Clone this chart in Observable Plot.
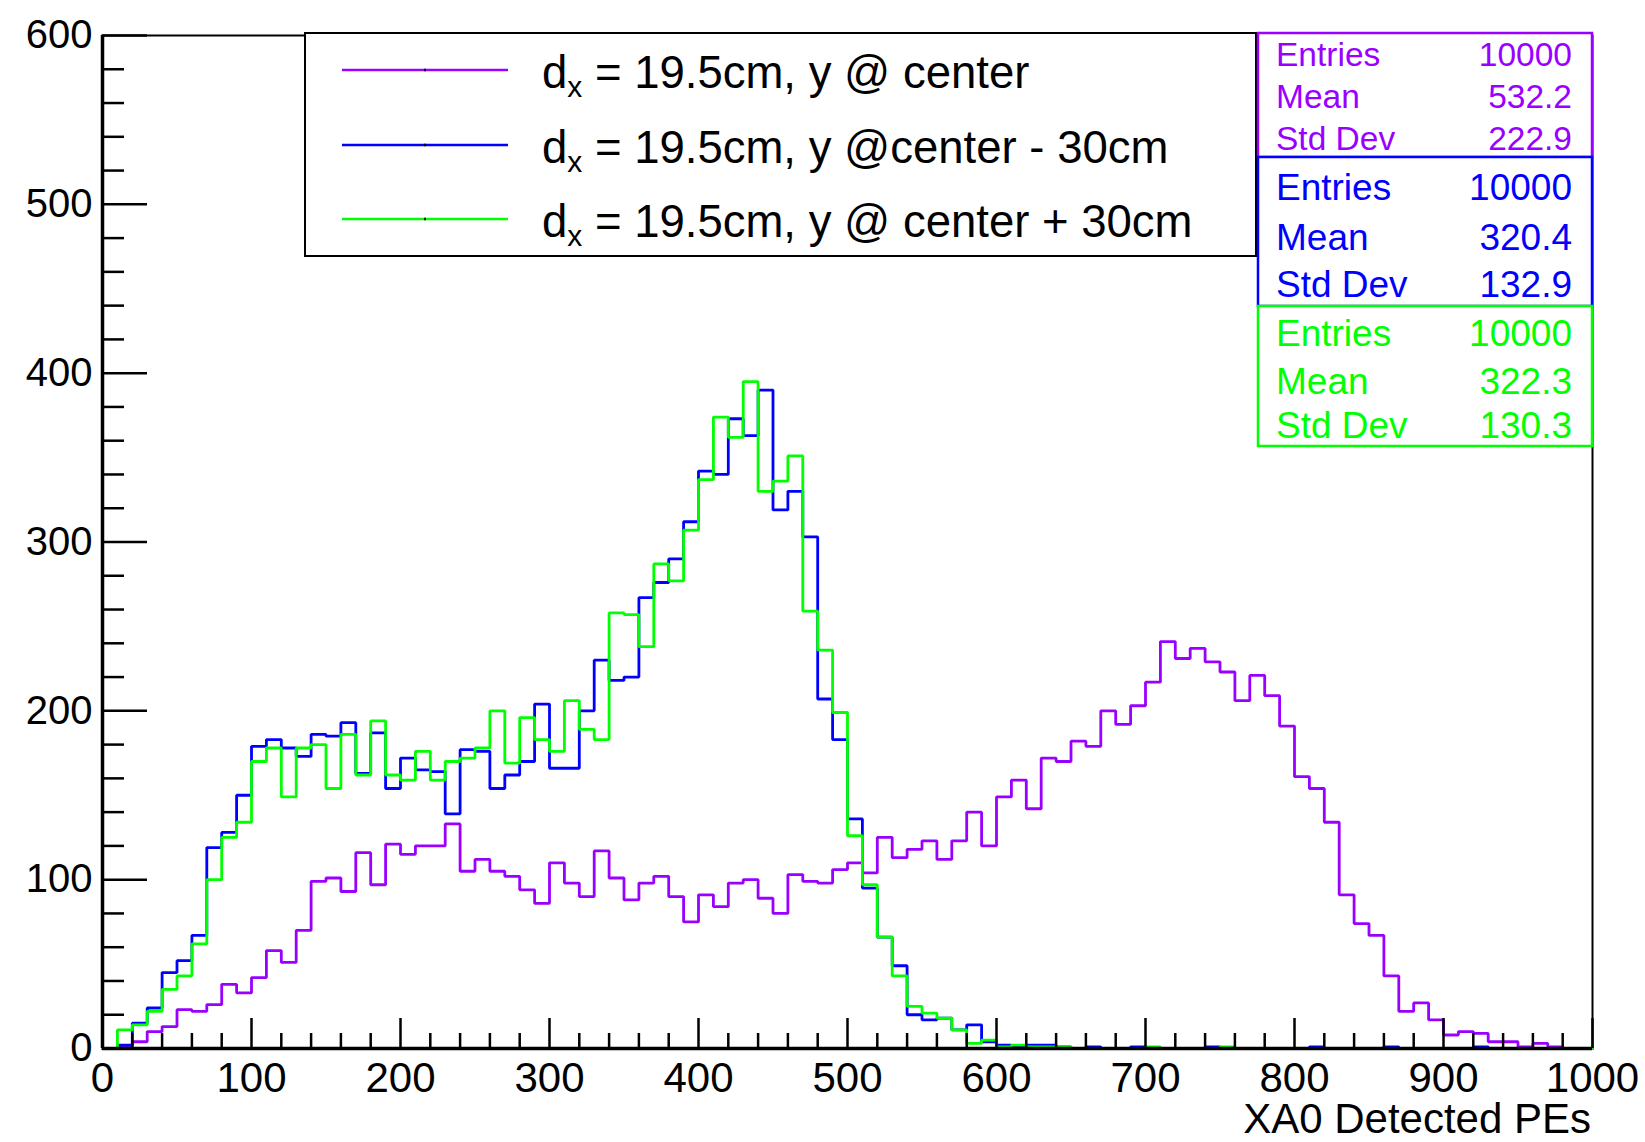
<!DOCTYPE html>
<html><head><meta charset="utf-8">
<script src="https://cdn.jsdelivr.net/npm/d3@7"></script>
<script src="https://cdn.jsdelivr.net/npm/@observablehq/plot@0.6"></script>
<style>
html,body{margin:0;padding:0;background:#fff;}
#chart{width:1645px;height:1142px;overflow:hidden;}
</style>
</head><body><div id="chart"></div>
<script>
// ---------- data ----------
const binStart = 0, binWidth = 10;
const centerCounts = [0,1,4,10,13,23,22,26,38,33, 42,58,51,70,99,101,93,116,97,121,
  115,120,120,133,105,112,105,102,94,86, 110,98,90,117,101,88,98,102,90,75,
  91,84,98,100,89,80,103,99,98,106, 110,104,125,113,118,123,112,123,140,120,
  149,159,142,172,170,182,179,200,192,203, 217,241,231,237,229,223,206,221,209,191,
  161,154,134,91,74,67,43,22,27,17, 8,10,9,4,4,1,3,1,0,0];
const minus30Counts = [0,2,15,24,45,52,67,119,128,150, 179,183,178,173,186,185,193,163,187,154,
  172,165,164,139,177,176,154,162,170,204, 166,166,200,230,218,220,267,276,290,312,
  342,340,373,363,390,319,330,303,207,183, 136,95,66,49,20,17,18,11,14,4,
  2,1,2,2,1,0,1,0,0,1, 0,0,0,0,1,0,0,0,0,0, 0,1,0,0,0,0,1,0,0,0, 0,0,1,0,0,0,0,0,0,0];
const plus30Counts = [0,11,14,22,35,43,62,100,125,134, 170,178,149,178,180,154,186,162,194,162,
  159,176,159,170,172,178,200,169,196,183, 176,206,189,183,258,257,238,287,277,307,
  337,374,362,395,330,336,351,259,236,199, 126,97,66,43,25,21,18,11,3,5,
  1,2,1,1,1,0,0,0,0,0, 1,0,0,0,0,1,0,0,0,0, 0,0,0,0,0,0,0,0,0,0, 0,0,0,0,0,0,0,0,0,0];
const seriesCounts = [centerCounts, minus30Counts, plus30Counts];
const seriesColors = ["#9a00ff", "#0000ff", "#00ff00"];
const legendSuffix = [" = 19.5cm, y @ center", " = 19.5cm, y @center - 30cm", " = 19.5cm, y @ center + 30cm"];
const statLabels = ["Entries", "Mean", "Std Dev"];
const statValues = [["10000","532.2","222.9"],["10000","320.4","132.9"],["10000","322.3","130.3"]];
const xTicks = [0,100,200,300,400,500,600,700,800,900,1000];
const yTicks = [0,100,200,300,400,500,600];
const xMinorStep = 20, yMinorStep = 20;
const xTitle = "XA0 Detected PEs";

// ---------- layout ----------
const W = 1645, H = 1142;
const mL = 102, mR = 53, mT = 35, mB = 94;
const plotW = W - mL - mR, plotH = H - mT - mB;
const FONT = "'Liberation Sans', Arial, Helvetica, sans-serif";

function steps(counts){
  const pts = counts.map((c,i)=>({x: binStart + i*binWidth, y: c}));
  pts.push({x: binStart + counts.length*binWidth, y: counts[counts.length-1]});
  return pts;
}
const xMinor = d3.range(xTicks[0], xTicks[xTicks.length-1]+1, xMinorStep).filter(v=>!xTicks.includes(v));
const yMinor = d3.range(yTicks[0], yTicks[yTicks.length-1]+1, yMinorStep).filter(v=>!yTicks.includes(v));

const chart = Plot.plot({
  width: W, height: H,
  marginLeft: mL, marginRight: mR, marginTop: mT, marginBottom: mB,
  style: {fontFamily: FONT, background: "white", color: "black"},
  x: {domain: [xTicks[0], xTicks[xTicks.length-1]]},
  y: {domain: [yTicks[0], yTicks[yTicks.length-1]]},
  marks: [
    Plot.frame({stroke: "black", strokeWidth: 2}),
    ...seriesCounts.map((c,i)=>Plot.line(steps(c), {x:"x", y:"y", curve:"step-after", stroke: seriesColors[i], strokeWidth: 2.8, strokeLinejoin:"miter"})),
    Plot.tickX(xTicks, {x: d=>d, insetTop: plotH-30, stroke:"black", strokeWidth: 2.5}),
    Plot.tickX(xMinor, {x: d=>d, insetTop: plotH-15, stroke:"black", strokeWidth: 2.5}),
    Plot.tickY(yTicks, {y: d=>d, insetRight: plotW-45, stroke:"black", strokeWidth: 2.5}),
    Plot.tickY(yMinor, {y: d=>d, insetRight: plotW-22, stroke:"black", strokeWidth: 2.5}),
    Plot.ruleX([xTicks[0]], {stroke:"black", strokeWidth: 3.5}),
    Plot.ruleY([yTicks[0]], {stroke:"black", strokeWidth: 3.5}),
    Plot.axisX({ticks: xTicks, tickSize: 0, tickPadding: 14, fontSize: 42, tickFormat: d=>String(d), label: null}),
    Plot.axisY({ticks: yTicks, tickSize: 0, tickPadding: 10, fontSize: 40, tickFormat: d=>String(d), label: null})
  ]
});
document.getElementById("chart").appendChild(chart);

const svg = d3.select(chart);
// x title
svg.append("text").attr("x", 1591).attr("y", 1133).attr("text-anchor","end")
  .attr("font-family", FONT).attr("font-size", 42).attr("fill","black").text(xTitle);

// legend
const lg = svg.append("g").attr("text-anchor","start");
lg.append("rect").attr("x",305).attr("y",33).attr("width",951).attr("height",223)
  .attr("fill","white").attr("stroke","black").attr("stroke-width",2);
const legY = [70,145,219];
seriesColors.forEach((col,i)=>{
  lg.append("line").attr("x1",342).attr("x2",508).attr("y1",legY[i]).attr("y2",legY[i])
    .attr("stroke",col).attr("stroke-width",2.5);
  lg.append("rect").attr("x",424).attr("y",legY[i]-1.25).attr("width",2).attr("height",2.5).attr("fill","black");
  const t = lg.append("text").attr("x",542).attr("y",legY[i]+18).attr("text-anchor","start").attr("font-family",FONT)
    .attr("font-size",45.5).attr("fill","black");
  t.append("tspan").text("d");
  t.append("tspan").attr("font-size",30).attr("dy",9).text("x");
  t.append("tspan").attr("dy",-9).text(legendSuffix[i]);
});

// stats boxes
const boxes = [{y0:33,y1:157,fs:33.5,base:[66,108,150]},{y0:157,y1:306,fs:37,base:[200,250,297]},{y0:306,y1:446,fs:37,base:[346,394,438]}];
boxes.forEach((b,i)=>{
  const g = svg.append("g");
  g.append("rect").attr("x",1258).attr("y",b.y0).attr("width",334).attr("height",b.y1-b.y0)
    .attr("fill","white").attr("stroke",seriesColors[i]).attr("stroke-width",2.5);
  statLabels.forEach((lab,j)=>{
    g.append("text").attr("x",1276).attr("y",b.base[j]).attr("text-anchor","start").attr("font-family",FONT).attr("font-size",b.fs)
      .attr("fill",seriesColors[i]).text(lab);
    g.append("text").attr("x",1572).attr("y",b.base[j]).attr("text-anchor","end").attr("font-family",FONT)
      .attr("font-size",b.fs).attr("fill",seriesColors[i]).text(statValues[i][j]);
  });
});
</script>
</body></html>
